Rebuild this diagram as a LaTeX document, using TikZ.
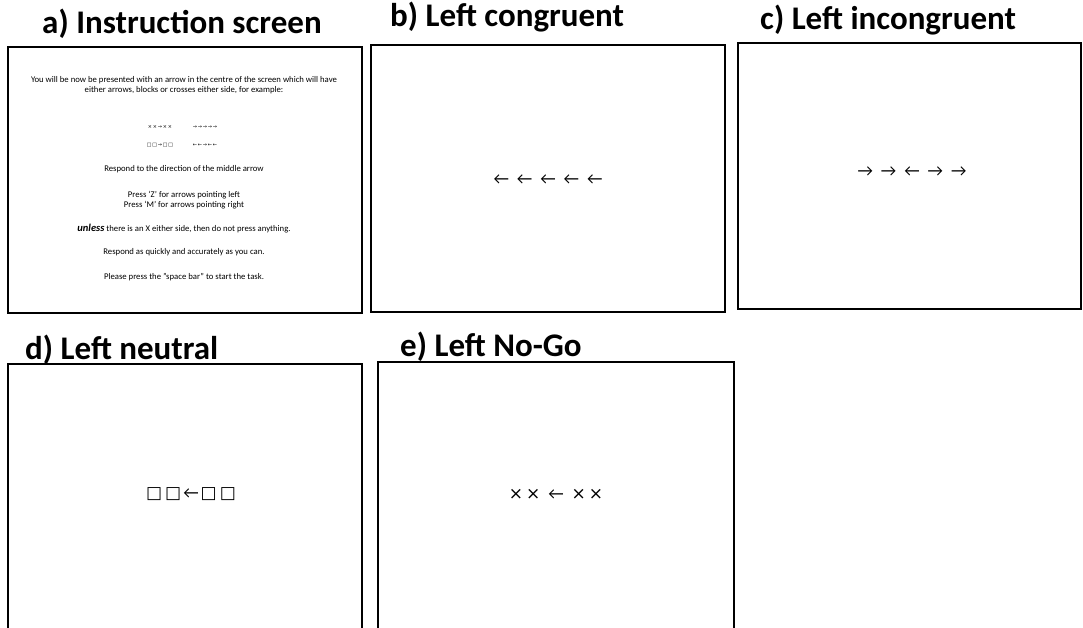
\documentclass[tikz,border=0pt]{standalone}
\usepackage{fontspec}
\setmainfont{Carlito}
\newfontfamily\symfont{DejaVu Sans}
\begin{document}
\begin{tikzpicture}[x=1pt,y=-1pt,
  screen/.style={draw=black,line width=1.8pt},
  ttl/.style={inner sep=0pt,anchor=base west,font=\fontsize{33}{36}\selectfont\bfseries},
  itxt/.style={inner sep=0pt,align=center,font=\fontsize{8.7}{10.6}\selectfont},
  stim/.style={inner sep=0pt,font=\fontsize{17}{20}\selectfont},
  sq/.style={inner sep=0pt,font=\symfont\fontsize{17}{20}\selectfont},
  small/.style={inner sep=0pt,font=\symfont\fontsize{5}{6}\selectfont}]
\useasboundingbox (0,0) rectangle (1083,627);
% screens
\draw[screen] (8,47) rectangle (362,313);
\draw[screen] (371,45) rectangle (725,312);
\draw[screen] (738,43) rectangle (1081,309);
\draw[screen] (8,630) -- (8,364) -- (362,364) -- (362,630);
\draw[screen] (378,630) -- (378,362) -- (734,362) -- (734,630);
% titles
\node[ttl] (ta) at (42,33) {a) Instruction screen};
\node[ttl] (tb) at (390,26) {b) Left congruent};
\node[ttl] (tc) at (760,29) {c) Left incongruent};
\node[ttl] (td) at (25,359) {d) Left neutral};
\node[ttl] (te) at (400,356) {e) Left No-Go};
% instruction screen text
\node[itxt] (l1) at (184,85) {You will be now be presented with an arrow in the centre of the screen which will have\\either arrows, blocks or crosses either side, for example:};
\node[small] (ex1) at (160,127) {×\,×\,→\,×\,×};
\node[small] (ex2) at (205,127) {→\,→\,→\,→\,→};
\node[small] (ex3) at (160,145) {□\,□\,→\,□\,□};
\node[small] (ex4) at (205,145) {←\,←\,→\,←\,←};
\node[itxt] (l3) at (184,169) {Respond to the direction of the middle arrow};
\node[itxt] (l4) at (184,200) {Press ‘Z’ for arrows pointing left\\Press ‘M’ for arrows pointing right};
\node[itxt] (l5) at (184,229) {{\fontsize{10.5}{11}\selectfont\bfseries\itshape unless} there is an X either side, then do not press anything.};
\node[itxt] (l6) at (184,252) {Respond as quickly and accurately as you can.};
\node[itxt] (l7) at (184,277) {Please press the "space bar" to start the task.};
% stimuli
\node[stim] (sb) at (548,180) {←\hspace{8pt}←\hspace{8pt}←\hspace{8pt}←\hspace{8pt}←};
\node[stim] (sc) at (912,172) {→\hspace{8pt}→\hspace{8pt}←\hspace{8pt}→\hspace{8pt}→};
\node[sq] (sd) at (191,494) {□\hspace{3pt}□\hspace{2pt}{\fontspec{Carlito}←}\hspace{2pt}□\hspace{3pt}□};
\node[sq] (se) at (556,494) {×\hspace{3pt}×\hspace{8pt}{\fontspec{Carlito}←}\hspace{8pt}×\hspace{3pt}×};
\end{tikzpicture}
\end{document}
